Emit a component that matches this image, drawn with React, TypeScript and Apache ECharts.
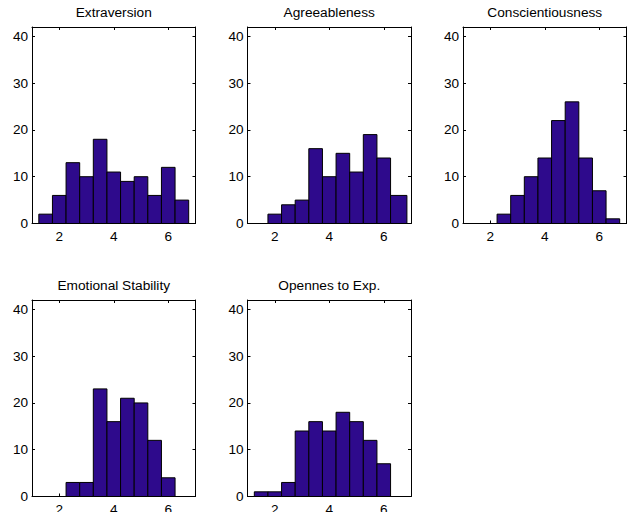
import React, { useEffect, useRef } from "react";
import * as echarts from "echarts";

const titles = ["Extraversion", "Agreeableness", "Conscientiousness", "Emotional Stability", "Opennes to Exp."];

const edgesStd = [1.25, 1.75, 2.25, 2.75, 3.25, 3.75, 4.25, 4.75, 5.25, 5.75, 6.25, 6.75];
const edgesAgree = [1.25, 1.75, 2.25, 2.75, 3.25, 3.75, 4.25, 4.75, 5.25, 5.75, 6.25, 6.85];

const extraversion = [2, 6, 13, 10, 18, 11, 9, 10, 6, 12, 5];
const agreeableness = [0, 2, 4, 5, 16, 10, 15, 11, 19, 14, 6];
const conscientiousness = [0, 0, 2, 6, 10, 14, 22, 26, 14, 7, 1];
const emotionalStability = [0, 0, 3, 3, 23, 16, 21, 20, 12, 4, 0];
const openness = [1, 1, 3, 14, 16, 14, 18, 16, 12, 7, 0];

const xTicks = [2, 4, 6];
const yTicks = [0, 10, 20, 30, 40];

const panelCounts = [extraversion, agreeableness, conscientiousness, emotionalStability, openness];
const panelEdges = [edgesStd, edgesAgree, edgesStd, edgesStd, edgesStd];

const FONT = "'Liberation Sans', Arial, Helvetica, sans-serif";
const BAR = "#2e0a8c";

const colLeft = [32, 247.5, 463];
const rowTop = [27, 300];
const boxW = 163.5;
const boxH = 196.5;

export default function App() {
  const ref = useRef<HTMLDivElement>(null);
  useEffect(() => {
    if (!ref.current) return;
    const chart = echarts.init(ref.current, null, { renderer: "svg" });
    const grids: any[] = [];
    const xAxes: any[] = [];
    const yAxes: any[] = [];
    const series: any[] = [];
    const graphics: any[] = [];
    panelCounts.forEach((counts, i) => {
      const col = i % 3;
      const row = Math.floor(i / 3);
      const left = colLeft[col];
      const top = rowTop[row];
      grids.push({ left, top, width: boxW, height: boxH, containLabel: false, outerBoundsMode: "none" });
      const axLine = { show: true, onZero: false, lineStyle: { color: "#000", width: 1 } };
      const mkX = (pos: string, showLabel: boolean) => ({
        gridIndex: i,
        type: "value",
        min: 1,
        max: 7,
        position: pos,
        axisLine: axLine,
        axisTick: { show: true, inside: true, length: 3, customValues: xTicks, lineStyle: { color: "#000" } },
        axisLabel: { show: showLabel, customValues: xTicks, color: "#000", fontSize: 13.6, fontFamily: FONT, margin: 6 },
        splitLine: { show: false },
      });
      const mkY = (pos: string, showLabel: boolean) => ({
        gridIndex: i,
        type: "value",
        min: 0,
        max: 42,
        position: pos,
        axisLine: axLine,
        axisTick: { show: true, inside: true, length: 3, customValues: yTicks, lineStyle: { color: "#000" } },
        axisLabel: { show: showLabel, customValues: yTicks, color: "#000", fontSize: 13.6, fontFamily: FONT, margin: 4 },
        splitLine: { show: false },
      });
      xAxes.push(mkX("bottom", true), mkX("top", false));
      yAxes.push(mkY("left", true), mkY("right", false));
      const edges = panelEdges[i];
      series.push({
        type: "custom",
        xAxisIndex: 2 * i,
        yAxisIndex: 2 * i,
        data: counts.map((c, k) => [edges[k], edges[k + 1], c]),
        encode: { x: [0, 1], y: 2 },
        renderItem: (params: any, api: any) => {
          const p0 = api.coord([api.value(0), api.value(2)]);
          const p1 = api.coord([api.value(1), 0]);
          return {
            type: "rect",
            shape: { x: p0[0], y: p0[1], width: p1[0] - p0[0], height: p1[1] - p0[1] },
            style: { fill: BAR, stroke: "#000", lineWidth: 1 },
          };
        },
      });
      graphics.push({
        type: "text",
        x: left + boxW / 2,
        y: top - 15,
        style: {
          text: titles[i],
          fill: "#000",
          font: `13.7px ${FONT}`,
          textAlign: "center",
          textVerticalAlign: "middle",
          align: "center",
          verticalAlign: "middle",
        },
      });
    });
    chart.setOption({
      animation: false,
      backgroundColor: "#fff",
      grid: grids,
      xAxis: xAxes,
      yAxis: yAxes,
      series,
      graphic: { elements: graphics },
    });
    return () => chart.dispose();
  }, []);
  return <div ref={ref} style={{ position: "absolute", left: 0, top: 0, width: 629, height: 512 }} />;
}
